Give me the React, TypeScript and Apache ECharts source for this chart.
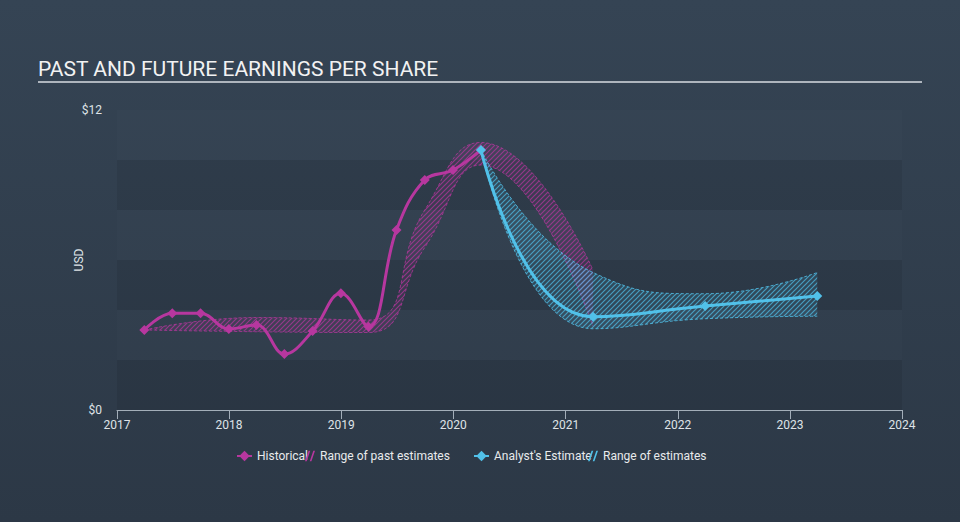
import React, { useEffect, useRef } from 'react';
import * as echarts from 'echarts';

// ---- data ----
const yearTicks = [2017, 2018, 2019, 2020, 2021, 2022, 2023, 2024];

const histDates = [
  '2017-03-31', '2017-06-30', '2017-09-30', '2017-12-31',
  '2018-03-31', '2018-06-30', '2018-09-30', '2018-12-31',
  '2019-03-31', '2019-06-30', '2019-09-30', '2019-12-31',
  '2020-03-31',
];
const histValues = [3.2, 3.87, 3.87, 3.24, 3.4, 2.24, 3.16, 4.67, 3.33, 7.2, 9.2, 9.6, 10.4];

const pastRangeDates = ['2017-03-31', '2018-03-31', '2019-03-31', '2019-09-30', '2020-03-31', '2021-03-31'];
const pastRangeLow = [3.2, 3.13, 3.1, 6.5, 9.8, 3.35];
const pastRangeHigh = [3.2, 3.7, 3.6, 8.0, 10.7, 5.6];

const estDates = ['2020-03-31', '2021-03-31', '2022-03-31', '2023-03-31'];
const estValues = [10.4, 3.73, 4.16, 4.56];
const estLow = [10.4, 3.25, 3.65, 3.75];
const estHigh = [10.4, 5.5, 4.65, 5.5];

const yTickLabels: Record<number, string> = { 0: '$0', 12: '$12' };

// ---- helpers ----
const MAG = '#b7379f';
const CYAN = '#51c1e9';
const YEAR_MS = 365 * 24 * 3600 * 1000;

function toTime(s: string): number {
  const [y, m, d] = s.split('-').map(Number);
  return new Date(y, m - 1, d).getTime();
}

// diagonal hatch tile ("/" direction) with a faint tint underneath
function hatch(rgb: string, lineAlpha: number, baseAlpha: number) {
  const n = 5;
  const c = document.createElement('canvas');
  c.width = n;
  c.height = n;
  const ctx = c.getContext('2d')!;
  ctx.fillStyle = `rgba(${rgb},${baseAlpha})`;
  ctx.fillRect(0, 0, n, n);
  ctx.strokeStyle = `rgba(${rgb},${lineAlpha})`;
  ctx.lineWidth = 1.2;
  ctx.beginPath();
  ctx.moveTo(0, n); ctx.lineTo(n, 0);
  ctx.moveTo(-1, 1); ctx.lineTo(1, -1);
  ctx.moveTo(n - 1, n + 1); ctx.lineTo(n + 1, n - 1);
  ctx.stroke();
  return { image: c, repeat: 'repeat', imageWidth: n, imageHeight: n } as any;
}

const HATCH_ICON = 'path://M0 10L1.6 10L5 0L3.4 0Z M4.5 10L6.1 10L9.5 0L7.9 0Z';

export default function App() {
  const ref = useRef<HTMLDivElement>(null);

  useEffect(() => {
    document.body.style.margin = '0';
    if (!ref.current) return;
    const chart = echarts.init(ref.current, undefined, { renderer: 'svg' });

    const histData = histDates.map((d, i) => [toTime(d), histValues[i]]);
    const estData = estDates.map((d, i) => [toTime(d), estValues[i]]);
    const pastLowData = pastRangeDates.map((d, i) => [toTime(d), pastRangeLow[i]]);
    const pastDiffData = pastRangeDates.map((d, i) => [toTime(d), +(pastRangeHigh[i] - pastRangeLow[i]).toFixed(3)]);
    const estLowData = estDates.map((d, i) => [toTime(d), estLow[i]]);
    const estDiffData = estDates.map((d, i) => [toTime(d), +(estHigh[i] - estLow[i]).toFixed(3)]);

    const textColor = '#dfe3e7';
    const font = 'Roboto, "Noto Sans", sans-serif';

    const legendBase = {
      top: 450,
      padding: 0,
      itemHeight: 13,
      textStyle: { color: '#e8eaec', fontSize: 12, fontFamily: font },
    };

    const option: any = {
      animation: false,
      backgroundColor: {
        type: 'linear', x: 0, y: 0, x2: 0, y2: 1,
        colorStops: [
          { offset: 0, color: '#354454' },
          { offset: 1, color: '#2c3846' },
        ],
      },
      title: {
        text: 'PAST AND FUTURE EARNINGS PER SHARE',
        left: 38,
        top: 58,
        padding: 0,
        textStyle: { color: '#f2f2f2', fontSize: 21, fontWeight: 'normal', fontFamily: font },
      },
      graphic: [
        {
          type: 'line',
          silent: true,
          shape: { x1: 38, y1: 82, x2: 922, y2: 82 },
          style: { stroke: '#aeb5bd', lineWidth: 2 },
        },
      ],
      grid: { left: 117, right: 58, top: 110, bottom: 112 },
      xAxis: {
        type: 'time',
        min: new Date(yearTicks[0], 0, 1).getTime(),
        max: new Date(yearTicks[yearTicks.length - 1], 0, 1).getTime(),
        minInterval: YEAR_MS,
        maxInterval: YEAR_MS,
        axisLine: { lineStyle: { color: '#a3aeb9', width: 1 } },
        axisTick: { length: 9, lineStyle: { color: '#a3aeb9' } },
        axisLabel: {
          color: textColor, fontSize: 12, margin: 9, fontFamily: font,
          showMinLabel: true, showMaxLabel: true,
          formatter: (v: number) => String(new Date(v).getFullYear()),
        },
        splitLine: { show: false },
      },
      yAxis: {
        type: 'value',
        min: 0,
        max: 12,
        interval: 2,
        name: 'USD',
        nameLocation: 'middle',
        nameGap: 32,
        nameMoveOverlap: false,
        nameTextStyle: { color: textColor, fontSize: 12, fontFamily: font },
        axisLine: { show: false },
        axisTick: { show: false },
        splitLine: { show: false },
        splitArea: {
          show: true,
          areaStyle: { color: ['rgba(0,0,0,0.07)', 'rgba(255,255,255,0.012)'] },
        },
        axisLabel: {
          color: textColor,
          fontSize: 12,
          margin: 15,
          fontFamily: font,
          formatter: (v: number) => yTickLabels[v] ?? '',
        },
      },
      legend: [
        { ...legendBase, left: 236, itemWidth: 15, data: ['Historical'] },
        { ...legendBase, left: 305, itemWidth: 10, data: [{ name: 'Range of past estimates', icon: HATCH_ICON, itemStyle: { color: MAG } }] },
        { ...legendBase, left: 473, itemWidth: 15, data: ["Analyst's Estimate"] },
        { ...legendBase, left: 588, itemWidth: 10, data: [{ name: 'Range of estimates', icon: HATCH_ICON, itemStyle: { color: CYAN } }] },
      ],
      series: [
        {
          name: 'pastLow',
          type: 'line',
          stack: 'past',
          data: pastLowData,
          smooth: 0.5,
          symbol: 'none',
          silent: true,
          z: 2,
          lineStyle: { color: 'rgba(183,55,159,0.75)', width: 1, type: [3, 2] },
          itemStyle: { color: MAG },
        },
        {
          name: 'Range of past estimates',
          type: 'line',
          stack: 'past',
          data: pastDiffData,
          smooth: 0.5,
          symbol: 'none',
          silent: true,
          z: 2,
          lineStyle: { color: 'rgba(183,55,159,0.75)', width: 1, type: [3, 2] },
          itemStyle: { color: MAG },
          areaStyle: { color: hatch('183,55,159', 0.7, 0.1), opacity: 1 },
        },
        {
          name: 'estLow',
          type: 'line',
          stack: 'est',
          data: estLowData,
          smooth: 0.5,
          symbol: 'none',
          silent: true,
          z: 3,
          lineStyle: { color: 'rgba(81,193,233,0.8)', width: 1, type: [3, 2] },
          itemStyle: { color: CYAN },
        },
        {
          name: 'Range of estimates',
          type: 'line',
          stack: 'est',
          data: estDiffData,
          smooth: 0.5,
          symbol: 'none',
          silent: true,
          z: 3,
          lineStyle: { color: 'rgba(81,193,233,0.8)', width: 1, type: [3, 2] },
          itemStyle: { color: CYAN },
          areaStyle: { color: hatch('81,193,233', 0.7, 0.12), opacity: 1 },
        },
        {
          name: 'Historical',
          type: 'line',
          data: histData,
          smooth: 0.4,
          symbol: 'diamond',
          symbolSize: 10,
          z: 5,
          lineStyle: { color: MAG, width: 3 },
          itemStyle: { color: MAG },
        },
        {
          name: "Analyst's Estimate",
          type: 'line',
          data: estData,
          smooth: 0.5,
          symbol: 'diamond',
          symbolSize: 10,
          z: 6,
          lineStyle: { color: CYAN, width: 3 },
          itemStyle: { color: CYAN },
        },
      ],
    };

    chart.setOption(option);
    return () => chart.dispose();
  }, []);

  return <div ref={ref} style={{ width: 960, height: 522 }} />;
}
